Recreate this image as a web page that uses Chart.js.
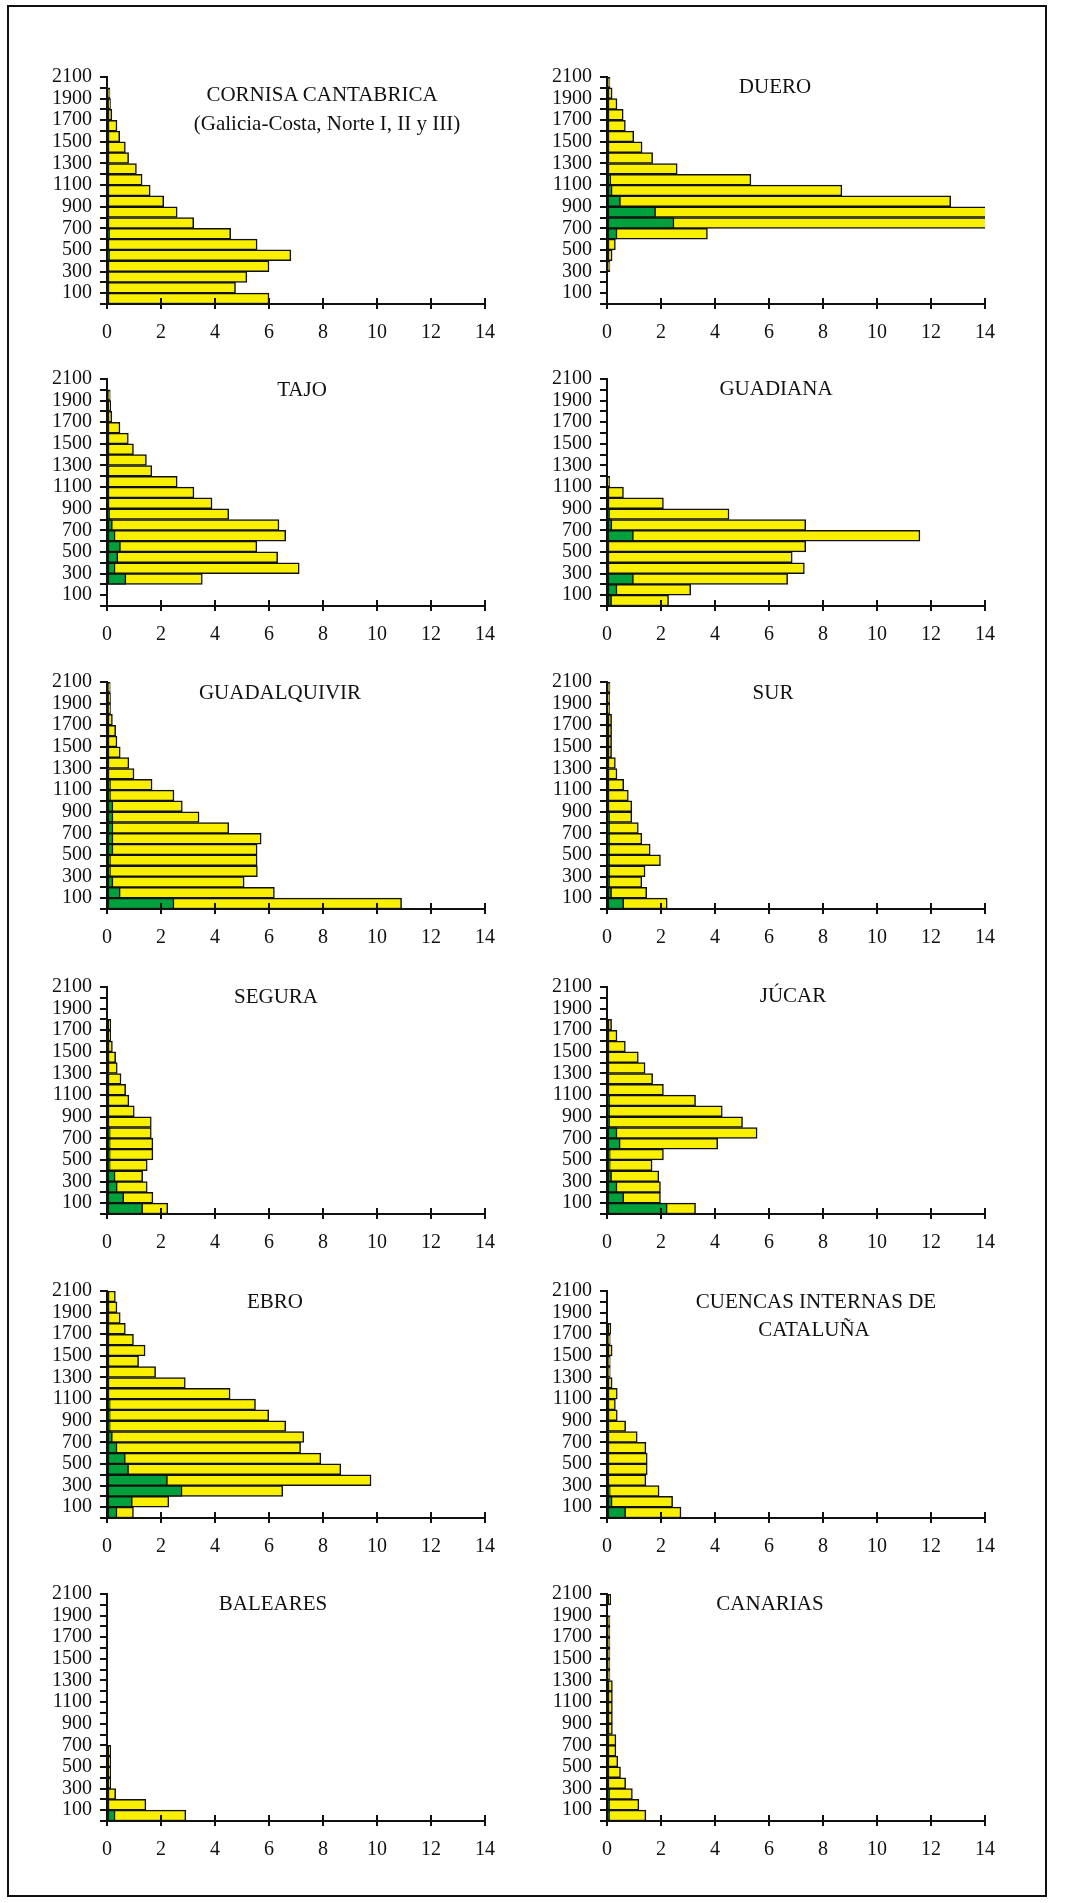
<!DOCTYPE html>
<html>
<head>
<meta charset="utf-8">
<script src="https://cdn.jsdelivr.net/npm/chart.js@4.4.0/dist/chart.umd.min.js"></script>
<style>
  body { margin: 0; background: #fff; }
  #page { position: relative; width: 1073px; height: 1903px; overflow: hidden; background: #fff; }
  #frame { position: absolute; left: 7px; top: 5px; width: 1036px; height: 1888px; border: 2px solid #111; }
  canvas { position: absolute; }
  .title { position: absolute; transform: translate(-50%, -50%); font-family: "Liberation Serif", serif;
           font-size: 21px; color: #111; white-space: nowrap; line-height: 1; }
</style>
</head>
<body>
<div id="page"><div id="frame"></div></div>
<script>
// altitude bands (m), lower bound of each 100 m band, bottom to top
const bandStarts = [0,100,200,300,400,500,600,700,800,900,1000,1100,1200,1300,1400,1500,1600,1700,1800,1900,2000];
const yTickLabels = ['100','300','500','700','900','1100','1300','1500','1700','1900','2100'];

const cornisaTotal = [6.0,4.76,5.18,6.0,6.81,5.56,4.58,3.21,2.6,2.1,1.6,1.3,1.09,0.8,0.68,0.47,0.37,0.18,0.13,0.11,0];
const cornisaGreen = [0,0,0,0,0.1,0,0.1,0,0,0,0,0,0,0,0,0,0,0,0,0,0];

const dueroTotal = [0,0,0,0.11,0.19,0.31,3.72,16,16,12.73,8.7,5.33,2.6,1.69,1.3,0.99,0.68,0.6,0.37,0.19,0.11];
const dueroGreen = [0,0,0,0,0,0,0.37,2.48,1.8,0.5,0.19,0.14,0,0,0,0,0,0,0,0,0];

const tajoTotal = [0,0,3.53,7.12,6.32,5.55,6.62,6.37,4.51,3.89,3.22,2.6,1.66,1.46,0.98,0.79,0.48,0.18,0.14,0.12,0];
const tajoGreen = [0,0,0.7,0.3,0.4,0.5,0.3,0.2,0.1,0,0,0,0,0,0,0,0,0,0,0,0];

const guadianaTotal = [2.28,3.1,6.69,7.31,6.86,7.36,11.59,7.36,4.52,2.09,0.61,0.1,0,0,0,0,0,0,0,0,0];
const guadianaGreen = [0.17,0.37,0.98,0,0,0,0.98,0.18,0.1,0,0,0,0,0,0,0,0,0,0,0,0];

const guadalquivirTotal = [10.91,6.2,5.08,5.57,5.56,5.56,5.71,4.51,3.41,2.79,2.48,1.67,1.0,0.81,0.49,0.37,0.32,0.2,0.13,0.13,0.12];
const guadalquivirGreen = [2.48,0.49,0.22,0.13,0.13,0.22,0.22,0.22,0.22,0.22,0.13,0.13,0,0,0,0,0,0,0,0,0];

const surTotal = [2.23,1.47,1.29,1.41,1.98,1.6,1.29,1.16,0.92,0.92,0.79,0.62,0.37,0.31,0.17,0.17,0.17,0.17,0.1,0.1,0.11];
const surGreen = [0.62,0.17,0.1,0.1,0.1,0.1,0.1,0.1,0.1,0,0,0,0,0,0,0,0,0,0,0,0];

const seguraTotal = [2.25,1.7,1.49,1.32,1.49,1.7,1.7,1.64,1.64,1.01,0.81,0.69,0.52,0.38,0.32,0.2,0.14,0.14,0,0,0];
const seguraGreen = [1.32,0.62,0.38,0.3,0.12,0.12,0.12,0.12,0,0,0,0,0,0,0,0,0,0,0,0,0];

const jucarTotal = [3.28,1.98,1.98,1.92,1.67,2.09,4.1,5.56,5.02,4.27,3.28,2.09,1.69,1.41,1.16,0.68,0.37,0.17,0,0,0];
const jucarGreen = [2.23,0.62,0.37,0.17,0.12,0.12,0.49,0.37,0.1,0.1,0.1,0,0,0,0,0,0,0,0,0,0];

const ebroTotal = [0.98,2.29,6.51,9.78,8.66,7.92,7.17,7.29,6.62,5.99,5.5,4.56,2.9,1.8,1.17,1.41,0.98,0.68,0.49,0.37,0.31];
const ebroGreen = [0.37,0.94,2.78,2.24,0.8,0.68,0.37,0.2,0.12,0.12,0.12,0,0,0,0,0,0,0,0,0,0];

const catalunaTotal = [2.74,2.43,1.93,1.44,1.49,1.49,1.44,1.12,0.69,0.38,0.31,0.38,0.19,0.12,0.12,0.19,0.12,0.14,0,0,0];
const catalunaGreen = [0.69,0.19,0.12,0,0,0,0,0,0,0,0,0,0,0,0,0,0,0,0,0,0];

const balearesTotal = [2.92,1.44,0.32,0.14,0.14,0.14,0.14,0,0,0,0,0,0,0,0,0,0,0,0,0,0];
const balearesGreen = [0.3,0,0,0,0,0,0,0,0,0,0,0,0,0,0,0,0,0,0,0,0];

const canariasTotal = [1.44,1.18,0.94,0.69,0.5,0.4,0.33,0.33,0.2,0.2,0.2,0.2,0.2,0.11,0.11,0.11,0.11,0.11,0.11,0,0.14];
const canariasGreen = [0.1,0.1,0.1,0,0,0,0,0,0,0,0,0,0,0,0,0,0,0,0,0,0];

const YELLOW = '#f8f000';
const GREEN = '#00a03c';
const INK = '#111';
const tickFont = { family: 'Liberation Serif', size: 20 };

// panel layout: canvas left/top, titles (lines with centre positions)
const panels = [
  { total: cornisaTotal, green: cornisaGreen, left: 20, top: 57,
    titles: [['CORNISA CANTABRICA', 322, 94], ['(Galicia-Costa, Norte I, II y III)', 327, 123]] },
  { total: dueroTotal, green: dueroGreen, left: 520, top: 57, titles: [['DUERO', 775, 86]] },
  { total: tajoTotal, green: tajoGreen, left: 20, top: 359, titles: [['TAJO', 302, 389]] },
  { total: guadianaTotal, green: guadianaGreen, left: 520, top: 359, titles: [['GUADIANA', 776, 388]] },
  { total: guadalquivirTotal, green: guadalquivirGreen, left: 20, top: 662, titles: [['GUADALQUIVIR', 280, 692]] },
  { total: surTotal, green: surGreen, left: 520, top: 662, titles: [['SUR', 773, 692]] },
  { total: seguraTotal, green: seguraGreen, left: 20, top: 967, titles: [['SEGURA', 276, 996]] },
  { total: jucarTotal, green: jucarGreen, left: 520, top: 967, titles: [['JÚCAR', 793, 995]] },
  { total: ebroTotal, green: ebroGreen, left: 20, top: 1271, titles: [['EBRO', 275, 1301]] },
  { total: catalunaTotal, green: catalunaGreen, left: 520, top: 1271,
    titles: [['CUENCAS INTERNAS DE', 816, 1301], ['CATALUÑA', 814, 1329]] },
  { total: balearesTotal, green: balearesGreen, left: 20, top: 1574, titles: [['BALEARES', 273, 1603]] },
  { total: canariasTotal, green: canariasGreen, left: 520, top: 1574, titles: [['CANARIAS', 770, 1603]] }
];

// bars sit in the middle of their 100 m band
function toPoints(values) {
  return values.map((v, i) => ({ x: v, y: bandStarts[i] + 50 }));
}

// x tick marks also poke up above the axis line
const tickCross = {
  id: 'tickCross',
  afterDraw(chart) {
    const ctx = chart.ctx, xs = chart.scales.x, area = chart.chartArea;
    ctx.save();
    ctx.strokeStyle = INK;
    ctx.lineWidth = 2;
    xs.ticks.forEach((t, i) => {
      const px = xs.getPixelForTick(i);
      ctx.beginPath();
      ctx.moveTo(px, area.bottom);
      ctx.lineTo(px, area.bottom - 6);
      ctx.stroke();
    });
    ctx.restore();
  }
};

const page = document.getElementById('page');

panels.forEach(p => {
  const canvas = document.createElement('canvas');
  canvas.width = 490;
  canvas.height = 292;
  canvas.style.left = p.left + 'px';
  canvas.style.top = p.top + 'px';
  page.appendChild(canvas);

  const barStyle = { borderColor: INK, borderWidth: 1.5, borderSkipped: false,
                     grouped: false, barPercentage: 1, categoryPercentage: 1 };

  new Chart(canvas.getContext('2d'), {
    type: 'bar',
    data: {
      datasets: [
        Object.assign({ label: 'green', data: toPoints(p.green), backgroundColor: GREEN }, barStyle),
        Object.assign({ label: 'total', data: toPoints(p.total), backgroundColor: YELLOW }, barStyle)
      ]
    },
    options: {
      indexAxis: 'y',
      responsive: false,
      animation: false,
      layout: { padding: { top: 15, right: 25, left: 0, bottom: 0 } },
      plugins: { legend: { display: false }, tooltip: { enabled: false } },
      scales: {
        x: {
          type: 'linear', min: 0, max: 14,
          ticks: { stepSize: 2, font: tickFont, color: INK, padding: 12 },
          grid: { drawOnChartArea: false, tickLength: 5, color: INK, lineWidth: 2 },
          border: { color: INK, width: 2 },
          afterFit: s => { s.height = 45; }
        },
        y: {
          type: 'linear', min: 0, max: 2100, offset: false,
          ticks: { stepSize: 100, autoSkip: false, font: tickFont, color: INK, padding: 8,
                   callback: v => yTickLabels.includes(String(v)) ? String(v) : '' },
          grid: { offset: false, drawOnChartArea: false, tickLength: 7, color: INK, lineWidth: 2 },
          border: { color: INK, width: 2 },
          afterFit: s => { s.width = 87; }
        }
      }
    },
    plugins: [tickCross]
  });

  p.titles.forEach(([text, x, y]) => {
    const d = document.createElement('div');
    d.className = 'title';
    d.textContent = text;
    d.style.left = x + 'px';
    d.style.top = y + 'px';
    page.appendChild(d);
  });
});
</script>
</body>
</html>
